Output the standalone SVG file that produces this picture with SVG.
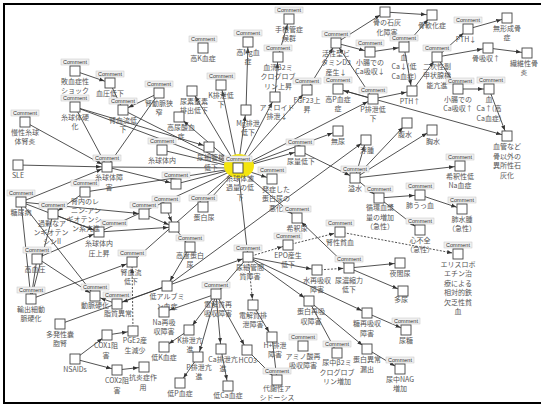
<svg xmlns="http://www.w3.org/2000/svg" width="541" height="407" viewBox="0 0 541 407">
<style>
.b{fill:#fff;stroke:#444;stroke-width:0.9}
.c{fill:#f1f1f1;stroke:#c4c4c4;stroke-width:0.5}
.ct{font-family:"Liberation Sans",Arial,sans-serif;font-size:5.5px;fill:#333;text-anchor:middle}
.t{font-family:"Noto Sans CJK JP","Noto Sans",sans-serif;font-size:7px;fill:#555;text-anchor:middle}
.e{stroke:#333;stroke-width:0.85;fill:none;marker-end:url(#a)}
.d{stroke-dasharray:2,1.5}
</style>
<defs>
<marker id="a" viewBox="0 0 10 10" refX="22" refY="5" markerWidth="5" markerHeight="5" markerUnits="userSpaceOnUse" orient="auto"><path d="M0,1L10,5L0,9z" fill="#333"/></marker>
</defs>
<rect x="0" y="0" width="541" height="407" fill="#fff"/>
<rect x="4" y="4" width="540" height="399" fill="none" stroke="#000" stroke-width="2"/>
<g id="connectors">
<line class="e" x1="75" y1="71" x2="110" y2="83"/>
<line class="e" x1="110" y1="83" x2="123" y2="110"/>
<line class="e" x1="159" y1="93" x2="123" y2="110"/>
<line class="e" x1="123" y1="110" x2="238" y2="168"/>
<line class="e" x1="159" y1="93" x2="107" y2="167"/>
<line class="e" x1="75" y1="107" x2="238" y2="168"/>
<line class="e" x1="75" y1="107" x2="209" y2="147"/>
<line class="e" x1="75" y1="107" x2="107" y2="167"/>
<line class="e" x1="25" y1="122" x2="107" y2="167"/>
<line class="e" x1="18" y1="165" x2="107" y2="167"/>
<line class="e" x1="21" y1="202" x2="107" y2="167"/>
<line class="e" x1="21" y1="202" x2="99" y2="232"/>
<line class="e" x1="21" y1="202" x2="31" y2="299"/>
<line class="e" x1="21" y1="202" x2="144" y2="214"/>
<line class="e" x1="85" y1="192" x2="53" y2="214"/>
<line class="e" x1="85" y1="192" x2="238" y2="168"/>
<line class="e" x1="53" y1="214" x2="99" y2="232"/>
<line class="e" x1="53" y1="214" x2="31" y2="299"/>
<line class="e" x1="37" y1="258" x2="99" y2="232"/>
<line class="e" x1="37" y1="258" x2="95" y2="296"/>
<line class="e" x1="37" y1="258" x2="31" y2="299"/>
<line class="e" x1="21" y1="202" x2="95" y2="296"/>
<line class="e" x1="31" y1="299" x2="132" y2="262"/>
<line class="e" x1="99" y1="232" x2="238" y2="168"/>
<line class="e" x1="99" y1="232" x2="174" y2="227"/>
<line class="e" x1="107" y1="167" x2="238" y2="168"/>
<line class="e" x1="107" y1="167" x2="176" y2="184"/>
<line class="e" x1="162" y1="150" x2="238" y2="168"/>
<line class="e" x1="176" y1="184" x2="238" y2="168"/>
<line class="e" x1="203" y1="207" x2="238" y2="168"/>
<line class="e" x1="166" y1="208" x2="174" y2="227"/>
<line class="e" x1="144" y1="214" x2="174" y2="227"/>
<line class="e" x1="174" y1="227" x2="190" y2="247"/>
<line class="e" x1="190" y1="247" x2="167" y2="286"/>
<line class="e" x1="132" y1="262" x2="238" y2="168"/>
<line class="e d" x1="133" y1="331" x2="132" y2="262"/>
<line class="e" x1="167" y1="286" x2="117" y2="304"/>
<line class="e" x1="117" y1="304" x2="95" y2="296"/>
<line class="e" x1="60" y1="324" x2="248" y2="257"/>
<line class="e" x1="75" y1="359" x2="107" y2="335"/>
<line class="e" x1="75" y1="359" x2="117" y2="370"/>
<line class="e" x1="107" y1="335" x2="133" y2="331"/>
<line class="e" x1="117" y1="370" x2="144" y2="367"/>
<line class="e" x1="238" y1="168" x2="192" y2="91"/>
<line class="e" x1="238" y1="168" x2="179" y2="117"/>
<line class="e" x1="238" y1="168" x2="221" y2="85"/>
<line class="e" x1="238" y1="168" x2="246" y2="110"/>
<line class="e" x1="238" y1="168" x2="275" y2="97"/>
<line class="e" x1="238" y1="168" x2="307" y2="90"/>
<line class="e" x1="238" y1="168" x2="373" y2="99"/>
<line class="e" x1="238" y1="168" x2="300" y2="151"/>
<line class="e" x1="238" y1="168" x2="338" y2="131"/>
<line class="e" x1="238" y1="168" x2="248" y2="257"/>
<line class="e" x1="238" y1="168" x2="272" y2="179"/>
<line class="e" x1="238" y1="168" x2="297" y2="218"/>
<line class="e" x1="246" y1="110" x2="248" y2="42"/>
<line class="e" x1="275" y1="97" x2="278" y2="57"/>
<line class="e" x1="278" y1="57" x2="289" y2="19"/>
<line class="e" x1="307" y1="90" x2="336" y2="43"/>
<line class="e" x1="373" y1="99" x2="336" y2="43"/>
<line class="e" x1="373" y1="99" x2="338" y2="89"/>
<line class="e" x1="373" y1="99" x2="412" y2="91"/>
<line class="e" x1="338" y1="89" x2="507" y2="136"/>
<line class="e" x1="336" y1="43" x2="370" y2="52"/>
<line class="e" x1="336" y1="43" x2="385" y2="12"/>
<line class="e" x1="385" y1="12" x2="432" y2="15"/>
<line class="e" x1="404" y1="47" x2="432" y2="15"/>
<line class="e" x1="370" y1="52" x2="404" y2="47"/>
<line class="e" x1="404" y1="47" x2="412" y2="91"/>
<line class="e" x1="412" y1="91" x2="437" y2="57"/>
<line class="e" x1="437" y1="57" x2="488" y2="48"/>
<line class="e" x1="488" y1="48" x2="527" y2="53"/>
<line class="e" x1="437" y1="57" x2="468" y2="29"/>
<line class="e" x1="468" y1="29" x2="507" y2="18"/>
<line class="e" x1="437" y1="57" x2="458" y2="89"/>
<line class="e" x1="458" y1="89" x2="489" y2="89"/>
<line class="e" x1="489" y1="89" x2="507" y2="136"/>
<line class="e" x1="300" y1="151" x2="355" y2="178"/>
<line class="e" x1="167" y1="286" x2="366" y2="140"/>
<line class="e" x1="355" y1="178" x2="366" y2="140"/>
<line class="e" x1="355" y1="178" x2="407" y2="123"/>
<line class="e" x1="355" y1="178" x2="432" y2="130"/>
<line class="e" x1="355" y1="178" x2="460" y2="166"/>
<line class="e" x1="355" y1="178" x2="379" y2="198"/>
<line class="e" x1="379" y1="198" x2="420" y2="195"/>
<line class="e" x1="379" y1="198" x2="420" y2="230"/>
<line class="e" x1="420" y1="195" x2="462" y2="209"/>
<line class="e d" x1="288" y1="245" x2="340" y2="232"/>
<line class="e d" x1="340" y1="232" x2="458" y2="254"/>
<line class="e d" x1="248" y1="257" x2="288" y2="245"/>
<line class="e" x1="248" y1="257" x2="317" y2="270"/>
<line class="e d" x1="317" y1="270" x2="349" y2="268"/>
<line class="e" x1="349" y1="268" x2="400" y2="263"/>
<line class="e" x1="349" y1="268" x2="403" y2="291"/>
<line class="e" x1="349" y1="268" x2="297" y2="218"/>
<line class="e" x1="248" y1="257" x2="309" y2="301"/>
<line class="e" x1="248" y1="257" x2="367" y2="313"/>
<line class="e" x1="248" y1="257" x2="216" y2="294"/>
<line class="e d" x1="248" y1="257" x2="253" y2="305"/>
<line class="e" x1="309" y1="301" x2="337" y2="353"/>
<line class="e" x1="309" y1="301" x2="367" y2="349"/>
<line class="e" x1="367" y1="349" x2="400" y2="369"/>
<line class="e" x1="367" y1="313" x2="406" y2="330"/>
<line class="e" x1="216" y1="294" x2="164" y2="312"/>
<line class="e" x1="216" y1="294" x2="189" y2="330"/>
<line class="e" x1="216" y1="294" x2="198" y2="357"/>
<line class="e" x1="216" y1="294" x2="221" y2="349"/>
<line class="e" x1="216" y1="294" x2="247" y2="350"/>
<line class="e" x1="189" y1="330" x2="164" y2="347"/>
<line class="e" x1="198" y1="357" x2="180" y2="383"/>
<line class="e" x1="221" y1="349" x2="228" y2="386"/>
<line class="e" x1="247" y1="350" x2="277" y2="380"/>
<line class="e" x1="253" y1="305" x2="272" y2="337"/>
<line class="e" x1="272" y1="337" x2="277" y2="380"/>
</g>
<g id="n_shock"><rect class="c" x="61" y="59" width="28" height="6"/><text class="ct" x="75" y="63.8">Comment</text><rect class="b" x="70" y="66" width="10" height="10"/><text class="t" x="75" y="83.5">敗血症性</text><text class="t" x="75" y="93">ショック</text></g>
<g id="n_bp"><rect class="c" x="96" y="71" width="28" height="6"/><text class="ct" x="110" y="75.8">Comment</text><rect class="b" x="105" y="78" width="10" height="10"/><text class="t" x="110" y="95.5">血圧低下</text></g>
<g id="n_gs"><rect class="c" x="61" y="95" width="28" height="6"/><text class="ct" x="75" y="99.8">Comment</text><rect class="b" x="70" y="102" width="10" height="10"/><text class="t" x="75" y="119.5">糸球体硬</text><text class="t" x="75" y="129">化</text></g>
<g id="n_rbf"><rect class="c" x="109" y="98" width="28" height="6"/><text class="ct" x="123" y="102.8">Comment</text><rect class="b" x="118" y="105" width="10" height="10"/><text class="t" x="123" y="122.5">腎血流低</text><text class="t" x="123" y="132">下</text></g>
<g id="n_cgn"><rect class="c" x="11" y="110" width="28" height="6"/><text class="ct" x="25" y="114.8">Comment</text><rect class="b" x="20" y="117" width="10" height="10"/><text class="t" x="25" y="134.5">慢性糸球</text><text class="t" x="25" y="144">体腎炎</text></g>
<g id="n_ras"><rect class="c" x="145" y="81" width="28" height="6"/><text class="ct" x="159" y="85.8">Comment</text><rect class="b" x="154" y="88" width="10" height="10"/><text class="t" x="159" y="105.5">腎動脈狭</text><text class="t" x="159" y="115">窄</text></g>
<g id="n_hk"><rect class="c" x="189" y="36" width="28" height="6"/><text class="ct" x="203" y="40.8">Comment</text><rect class="b" x="198" y="43" width="10" height="10"/><text class="t" x="203" y="60.5">高K血症</text></g>
<g id="n_hmg"><rect class="c" x="234" y="30" width="28" height="6"/><text class="ct" x="248" y="34.8">Comment</text><rect class="b" x="243" y="37" width="10" height="10"/><text class="t" x="248" y="54.5">高Mg血</text><text class="t" x="248" y="64">症</text></g>
<g id="n_bun"><rect class="b" x="187" y="86" width="10" height="10"/><text class="t" x="194" y="103.5">尿素窒素</text><text class="t" x="194" y="113">排出低下</text></g>
<g id="n_hua"><rect class="b" x="174" y="112" width="10" height="10"/><text class="t" x="181" y="129.5">高尿酸血</text><text class="t" x="181" y="139">症</text></g>
<g id="n_kex"><rect class="c" x="207" y="73" width="28" height="6"/><text class="ct" x="221" y="77.8">Comment</text><rect class="b" x="216" y="80" width="10" height="10"/><text class="t" x="221" y="97.5">K排泄低</text><text class="t" x="221" y="107">下</text></g>
<g id="n_mgex"><rect class="b" x="241" y="105" width="10" height="10"/><text class="t" x="248" y="125.5">Mg排泄</text><text class="t" x="248" y="135">低下</text></g>
<g id="n_cts"><rect class="c" x="275" y="7" width="28" height="6"/><text class="ct" x="289" y="11.8">Comment</text><rect class="b" x="284" y="14" width="10" height="10"/><text class="t" x="289" y="31.5">手根管症</text><text class="t" x="289" y="41">候群</text></g>
<g id="n_b2m"><rect class="c" x="264" y="45" width="28" height="6"/><text class="ct" x="278" y="49.8">Comment</text><rect class="b" x="273" y="52" width="10" height="10"/><text class="t" x="278" y="69.5">血清β2ミ</text><text class="t" x="278" y="79">クログロブ</text><text class="t" x="278" y="88.5">リン上昇</text></g>
<g id="n_amy"><rect class="b" x="270" y="92" width="10" height="10"/><text class="t" x="277" y="109.5">アミロイド</text><text class="t" x="277" y="119">排泄↓</text></g>
<g id="n_fgf"><rect class="c" x="293" y="78" width="28" height="6"/><text class="ct" x="307" y="82.8">Comment</text><rect class="b" x="302" y="85" width="10" height="10"/><text class="t" x="307" y="102.5">FGF23上</text><text class="t" x="307" y="112">昇</text></g>
<g id="n_vd"><rect class="c" x="322" y="31" width="28" height="6"/><text class="ct" x="336" y="35.8">Comment</text><rect class="b" x="331" y="38" width="10" height="10"/><text class="t" x="336" y="55.5">活性型ビ</text><text class="t" x="336" y="65">タミンD3</text><text class="t" x="336" y="74.5">産生↓</text></g>
<g id="n_cad"><rect class="c" x="356" y="40" width="28" height="6"/><text class="ct" x="370" y="44.8">Comment</text><rect class="b" x="365" y="47" width="10" height="10"/><text class="t" x="370" y="64.5">小腸での</text><text class="t" x="370" y="74">Ca吸収↓</text></g>
<g id="n_bmin"><rect class="b" x="380" y="7" width="10" height="10"/><text class="t" x="387" y="25">骨の石灰</text><text class="t" x="387" y="34.5">化障害</text></g>
<g id="n_hp"><rect class="c" x="324" y="77" width="28" height="6"/><text class="ct" x="338" y="81.8">Comment</text><rect class="b" x="333" y="84" width="10" height="10"/><text class="t" x="338" y="101.5">高P血症</text><text class="t" x="338" y="111">症</text></g>
<g id="n_pex"><rect class="c" x="359" y="87" width="28" height="6"/><text class="ct" x="373" y="91.8">Comment</text><rect class="b" x="368" y="94" width="10" height="10"/><text class="t" x="373" y="111.5">P排泄低</text><text class="t" x="373" y="121">下</text></g>
<g id="n_lca"><rect class="c" x="390" y="35" width="28" height="6"/><text class="ct" x="404" y="39.8">Comment</text><rect class="b" x="399" y="42" width="10" height="10"/><text class="t" x="404" y="59.5">血</text><text class="t" x="404" y="69">Ca↓(低</text><text class="t" x="404" y="78.5">Ca血症)</text></g>
<g id="n_om"><rect class="b" x="427" y="10" width="10" height="10"/><text class="t" x="432" y="27.5">骨軟化症</text></g>
<g id="n_pthd"><rect class="c" x="454" y="17" width="28" height="6"/><text class="ct" x="468" y="21.8">Comment</text><rect class="b" x="463" y="24" width="10" height="10"/><text class="t" x="466" y="42">PTH↓</text></g>
<g id="n_ab"><rect class="b" x="502" y="13" width="10" height="10"/><text class="t" x="507" y="30.5">無形成骨</text><text class="t" x="507" y="40">症</text></g>
<g id="n_hpt"><rect class="c" x="423" y="45" width="28" height="6"/><text class="ct" x="437" y="49.8">Comment</text><rect class="b" x="432" y="52" width="10" height="10"/><text class="t" x="437" y="68.5">二次性副</text><text class="t" x="437" y="78">甲状腺機</text><text class="t" x="437" y="87.5">能亢進</text></g>
<g id="n_br"><rect class="b" x="483" y="43" width="10" height="10"/><text class="t" x="486" y="60.5">骨吸収↑</text></g>
<g id="n_of"><rect class="b" x="522" y="48" width="10" height="10"/><text class="t" x="524" y="65.5">繊維性骨</text><text class="t" x="524" y="75">炎</text></g>
<g id="n_pthu"><rect class="b" x="407" y="86" width="10" height="10"/><text class="t" x="410" y="103.5">PTH↑</text></g>
<g id="n_cau"><rect class="c" x="446" y="78" width="28" height="6"/><text class="ct" x="460" y="82.8">Comment</text><rect class="b" x="453" y="84" width="10" height="10"/><text class="t" x="458" y="101.5">小腸での</text><text class="t" x="458" y="111">Ca吸収↑</text></g>
<g id="n_hca"><rect class="c" x="477" y="77" width="28" height="6"/><text class="ct" x="491" y="81.8">Comment</text><rect class="b" x="484" y="84" width="10" height="10"/><text class="t" x="489" y="101.5">血</text><text class="t" x="489" y="111">Ca↑(高</text><text class="t" x="489" y="120.5">Ca血症)</text></g>
<g id="n_ect"><rect class="b" x="502" y="131" width="10" height="10"/><text class="t" x="507" y="149">血管など</text><text class="t" x="507" y="158.5">骨以外の</text><text class="t" x="507" y="168">異所性石</text><text class="t" x="507" y="177.5">灰化</text></g>
<g id="n_asc"><rect class="b" x="402" y="118" width="10" height="10"/><text class="t" x="405" y="137">腹水</text></g>
<g id="n_pe"><rect class="b" x="427" y="125" width="10" height="10"/><text class="t" x="433" y="144">胸水</text></g>
<g id="n_ed"><rect class="b" x="361" y="135" width="10" height="10"/><text class="t" x="367" y="152.5">浮腫</text></g>
<g id="n_anu"><rect class="b" x="333" y="126" width="10" height="10"/><text class="t" x="338" y="144">無尿</text></g>
<g id="n_uo"><rect class="c" x="286" y="139" width="28" height="6"/><text class="ct" x="300" y="143.8">Comment</text><rect class="b" x="295" y="146" width="10" height="10"/><text class="t" x="301" y="163.5">尿量低下</text></g>
<g id="n_oh"><rect class="c" x="341" y="166" width="28" height="6"/><text class="ct" x="355" y="170.8">Comment</text><rect class="b" x="350" y="173" width="10" height="10"/><text class="t" x="355" y="190.5">溢水</text></g>
<g id="n_cv"><rect class="c" x="365" y="186" width="28" height="6"/><text class="ct" x="379" y="190.8">Comment</text><rect class="b" x="374" y="193" width="10" height="10"/><text class="t" x="380" y="210">循環血漿</text><text class="t" x="380" y="219.5">量の増加</text><text class="t" x="380" y="229">（急性）</text></g>
<g id="n_na"><rect class="c" x="446" y="154" width="28" height="6"/><text class="ct" x="460" y="158.8">Comment</text><rect class="b" x="455" y="161" width="10" height="10"/><text class="t" x="460" y="178.5">希釈性低</text><text class="t" x="460" y="188">Na血症</text></g>
<g id="n_pc"><rect class="c" x="406" y="183" width="28" height="6"/><text class="ct" x="420" y="187.8">Comment</text><rect class="b" x="415" y="190" width="10" height="10"/><text class="t" x="420" y="207.5">肺うっ血</text></g>
<g id="n_pue"><rect class="c" x="448" y="197" width="28" height="6"/><text class="ct" x="462" y="201.8">Comment</text><rect class="b" x="457" y="204" width="10" height="10"/><text class="t" x="462" y="221.5">肺水腫</text><text class="t" x="462" y="231">（急性）</text></g>
<g id="n_hf"><rect class="c" x="406" y="218" width="28" height="6"/><text class="ct" x="420" y="222.8">Comment</text><rect class="b" x="415" y="225" width="10" height="10"/><text class="t" x="420" y="242.5">心不全</text><text class="t" x="420" y="252">（急性）</text></g>
<g id="n_esa"><rect class="c" x="444" y="242" width="28" height="6"/><text class="ct" x="458" y="246.8">Comment</text><rect class="b" x="453" y="249" width="10" height="10"/><text class="t" x="458" y="266.5">エリスロポ</text><text class="t" x="458" y="276">エチン治</text><text class="t" x="458" y="285.5">療による</text><text class="t" x="458" y="295">相対的鉄</text><text class="t" x="458" y="304.5">欠乏性貧</text><text class="t" x="458" y="314">血</text></g>
<g id="n_prot2"><rect class="c" x="258" y="167" width="28" height="6"/><text class="ct" x="272" y="171.8">Comment</text><rect class="b" x="267" y="174" width="10" height="10"/><text class="t" x="276" y="191.5">発症した</text><text class="t" x="276" y="201">蛋白尿の</text><text class="t" x="276" y="210.5">悪化</text></g>
<g id="n_dil"><rect class="c" x="283" y="206" width="28" height="6"/><text class="ct" x="297" y="210.8">Comment</text><rect class="b" x="292" y="213" width="10" height="10"/><text class="t" x="297" y="230.5">希釈尿</text></g>
<g id="n_ra"><rect class="c" x="326" y="220" width="28" height="6"/><text class="ct" x="340" y="224.8">Comment</text><rect class="b" x="335" y="227" width="10" height="10"/><text class="t" x="340" y="244.5">腎性貧血</text></g>
<g id="n_epo"><rect class="c" x="274" y="233" width="28" height="6"/><text class="ct" x="288" y="237.8">Comment</text><rect class="b" x="283" y="240" width="10" height="10"/><text class="t" x="288" y="257.5">EPO産生</text><text class="t" x="288" y="267">低下</text></g>
<g id="n_wr"><rect class="b" x="312" y="265" width="10" height="10"/><text class="t" x="317" y="282.5">水再吸収</text><text class="t" x="317" y="292">障害</text></g>
<g id="n_uc"><rect class="c" x="335" y="256" width="28" height="6"/><text class="ct" x="349" y="260.8">Comment</text><rect class="b" x="344" y="263" width="10" height="10"/><text class="t" x="349" y="282.5">尿濃縮力</text><text class="t" x="349" y="292">低下</text></g>
<g id="n_noc"><rect class="b" x="395" y="258" width="10" height="10"/><text class="t" x="400" y="275.5">夜間尿</text></g>
<g id="n_pol"><rect class="b" x="398" y="286" width="10" height="10"/><text class="t" x="401" y="301.5">多尿</text></g>
<g id="n_pr"><rect class="b" x="304" y="296" width="10" height="10"/><text class="t" x="311" y="314">蛋白再吸</text><text class="t" x="311" y="323.5">収障害</text></g>
<g id="n_gr"><rect class="b" x="362" y="308" width="10" height="10"/><text class="t" x="367" y="326">糖再吸収</text><text class="t" x="367" y="335.5">障害</text></g>
<g id="n_gly"><rect class="c" x="392" y="318" width="28" height="6"/><text class="ct" x="406" y="322.8">Comment</text><rect class="b" x="401" y="325" width="10" height="10"/><text class="t" x="406" y="343">尿糖</text></g>
<g id="n_aa"><rect class="c" x="289" y="334" width="28" height="6"/><text class="ct" x="303" y="338.8">Comment</text><rect class="b" x="298" y="341" width="10" height="10"/><text class="t" x="303" y="358.5">アミノ酸再</text><text class="t" x="303" y="368">吸収障害</text></g>
<g id="n_b2mu"><rect class="c" x="323" y="341" width="28" height="6"/><text class="ct" x="337" y="345.8">Comment</text><rect class="b" x="332" y="348" width="10" height="10"/><text class="t" x="337" y="365">尿中β2ミ</text><text class="t" x="337" y="374.5">クログロブ</text><text class="t" x="337" y="384">リン増加</text></g>
<g id="n_pl"><rect class="b" x="362" y="344" width="10" height="10"/><text class="t" x="367" y="362">蛋白異常</text><text class="t" x="367" y="371.5">漏出</text></g>
<g id="n_nag"><rect class="c" x="386" y="357" width="28" height="6"/><text class="ct" x="400" y="361.8">Comment</text><rect class="b" x="395" y="364" width="10" height="10"/><text class="t" x="400" y="381.5">尿中NAG</text><text class="t" x="400" y="391">増加</text></g>
<g id="n_ma"><rect class="c" x="263" y="368" width="28" height="6"/><text class="ct" x="277" y="372.8">Comment</text><rect class="b" x="272" y="375" width="10" height="10"/><text class="t" x="277" y="391">代謝性ア</text><text class="t" x="277" y="400">シドーシス</text></g>
<g id="n_hex"><rect class="b" x="267" y="332" width="10" height="10"/><text class="t" x="275" y="348">H+排泄</text><text class="t" x="275" y="357">障害</text></g>
<g id="n_eex"><rect class="b" x="248" y="300" width="10" height="10"/><text class="t" x="253" y="317.5">電解質排</text><text class="t" x="253" y="327">泄障害</text></g>
<g id="n_ti"><rect class="c" x="234" y="245" width="28" height="6"/><text class="ct" x="248" y="249.8">Comment</text><rect class="b" x="243" y="252" width="10" height="10"/><text class="t" x="250" y="269.5">尿細管間</text><text class="t" x="250" y="279">質障害</text></g>
<g id="n_er"><rect class="c" x="202" y="282" width="28" height="6"/><text class="ct" x="216" y="286.8">Comment</text><rect class="b" x="211" y="289" width="10" height="10"/><text class="t" x="218" y="306.5">電解質再</text><text class="t" x="218" y="316">吸収障害</text></g>
<g id="n_alb"><rect class="b" x="162" y="281" width="10" height="10"/><text class="t" x="167" y="299">低アルブミ</text><text class="t" x="167" y="308.5">ン血症</text></g>
<g id="n_nar"><rect class="b" x="159" y="307" width="10" height="10"/><text class="t" x="164" y="324.5">Na再吸</text><text class="t" x="164" y="334">収障害</text></g>
<g id="n_kx"><rect class="b" x="184" y="325" width="10" height="10"/><text class="t" x="190" y="342.5">K排泄亢</text><text class="t" x="190" y="352">進</text></g>
<g id="n_hk2"><rect class="b" x="159" y="342" width="10" height="10"/><text class="t" x="164" y="359.5">低K血症</text></g>
<g id="n_px"><rect class="b" x="193" y="352" width="10" height="10"/><text class="t" x="199" y="369.5">P排泄亢</text><text class="t" x="199" y="379">進</text></g>
<g id="n_cax"><rect class="b" x="216" y="344" width="10" height="10"/><text class="t" x="223" y="361.5">Ca排泄亢</text><text class="t" x="223" y="371">進</text></g>
<g id="n_hco"><rect class="b" x="242" y="345" width="10" height="10"/><text class="t" x="249" y="362.5">HCO3-</text></g>
<g id="n_hp2"><rect class="b" x="175" y="378" width="10" height="10"/><text class="t" x="180" y="395.5">低P血症</text></g>
<g id="n_hca2"><rect class="b" x="223" y="381" width="10" height="10"/><text class="t" x="228" y="398">低Ca血症</text></g>
<g id="n_ai"><rect class="b" x="139" y="362" width="10" height="10"/><text class="t" x="143" y="380">抗炎症作</text><text class="t" x="143" y="389.5">用</text></g>
<g id="n_pge"><rect class="b" x="128" y="326" width="10" height="10"/><text class="t" x="135" y="343">PGE2産</text><text class="t" x="135" y="352.5">生減少</text></g>
<g id="n_cox1"><rect class="b" x="102" y="330" width="10" height="10"/><text class="t" x="106" y="348">COX1阻</text><text class="t" x="106" y="357.5">害</text></g>
<g id="n_cox2"><rect class="b" x="112" y="365" width="10" height="10"/><text class="t" x="117" y="383">COX2阻</text><text class="t" x="117" y="392.5">害</text></g>
<g id="n_nsaid"><rect class="b" x="70" y="354" width="10" height="10"/><text class="t" x="75" y="372">NSAIDs</text></g>
<g id="n_pkd"><rect class="b" x="55" y="319" width="10" height="10"/><text class="t" x="60" y="336.5">多発性嚢</text><text class="t" x="60" y="346">胞腎</text></g>
<g id="n_ea"><rect class="c" x="17" y="287" width="28" height="6"/><text class="ct" x="31" y="291.8">Comment</text><rect class="b" x="26" y="294" width="10" height="10"/><text class="t" x="31" y="311.5">輸出細動</text><text class="t" x="31" y="321">脈硬化</text></g>
<g id="n_as"><rect class="c" x="81" y="284" width="28" height="6"/><text class="ct" x="95" y="288.8">Comment</text><rect class="b" x="90" y="291" width="10" height="10"/><text class="t" x="95" y="308">動脈硬化</text></g>
<g id="n_dl"><rect class="c" x="103" y="292" width="28" height="6"/><text class="ct" x="117" y="296.8">Comment</text><rect class="b" x="112" y="299" width="10" height="10"/><text class="t" x="118" y="316">脂質異常</text></g>
<g id="n_rbf2"><rect class="c" x="118" y="250" width="28" height="6"/><text class="ct" x="132" y="254.8">Comment</text><rect class="b" x="127" y="257" width="10" height="10"/><text class="t" x="131" y="274.5">腎血流</text><text class="t" x="131" y="284">低下</text></g>
<g id="n_ht"><rect class="c" x="23" y="247" width="28" height="6"/><text class="ct" x="37" y="251.8">Comment</text><rect class="b" x="32" y="254" width="10" height="10"/><text class="t" x="35" y="271.5">高血圧</text></g>
<g id="n_igp"><rect class="c" x="101" y="220" width="26" height="6"/><text class="ct" x="114" y="224.8">Comment</text><rect class="b" x="94" y="227" width="10" height="10"/><text class="t" x="99" y="246">糸球体内</text><text class="t" x="99" y="255.5">圧上昇</text></g>
<g id="n_ang"><rect class="c" x="39" y="202" width="28" height="6"/><text class="ct" x="53" y="206.8">Comment</text><rect class="b" x="48" y="209" width="10" height="10"/><text class="t" x="52" y="226">過剰なア</text><text class="t" x="51" y="235">ンギオテン</text><text class="t" x="52" y="244">シンII</text></g>
<g id="n_dm"><rect class="c" x="7" y="190" width="28" height="6"/><text class="ct" x="21" y="194.8">Comment</text><rect class="b" x="16" y="197" width="10" height="10"/><text class="t" x="21" y="214.5">糖尿病</text></g>
<g id="n_ras2"><rect class="c" x="71" y="180" width="28" height="6"/><text class="ct" x="85" y="184.8">Comment</text><rect class="b" x="80" y="187" width="10" height="10"/><text class="t" x="85" y="204">腎内のレ</text><text class="t" x="86" y="213">ニン-アン</text><text class="t" x="84" y="222">ギオテンシ</text><text class="t" x="86" y="231">ン系亢進</text></g>
<g id="n_sle"><rect class="b" x="13" y="160" width="10" height="10"/><text class="t" x="18" y="177.5">SLE</text></g>
<g id="n_gd"><rect class="c" x="93" y="155" width="28" height="6"/><text class="ct" x="107" y="159.8">Comment</text><rect class="b" x="102" y="162" width="10" height="10"/><text class="t" x="109" y="180">糸球体障</text><text class="t" x="109" y="189.5">害</text></g>
<g id="n_x1"><rect class="c" x="148" y="138" width="28" height="6"/><text class="ct" x="162" y="142.8">Comment</text><rect class="b" x="157" y="145" width="10" height="10"/><text class="t" x="162" y="162.5">糸球体内</text></g>
<g id="n_x2"><rect class="b" x="204" y="142" width="10" height="10"/><text class="t" x="211" y="160">尿細管機</text><text class="t" x="211" y="169.5">低下</text></g>
<g id="n_x3"><rect class="c" x="162" y="172" width="28" height="6"/><text class="ct" x="176" y="176.8">Comment</text><rect class="b" x="171" y="179" width="10" height="10"/></g>
<g id="n_x4"><rect class="c" x="189" y="195" width="28" height="6"/><text class="ct" x="203" y="199.8">Comment</text><rect class="b" x="198" y="202" width="10" height="10"/><text class="t" x="204" y="219.5">蛋白尿</text></g>
<g id="n_x5"><rect class="c" x="152" y="196" width="28" height="6"/><text class="ct" x="166" y="200.8">Comment</text><rect class="b" x="161" y="203" width="10" height="10"/></g>
<g id="n_x6"><rect class="c" x="130" y="202" width="28" height="6"/><text class="ct" x="144" y="206.8">Comment</text><rect class="b" x="139" y="209" width="10" height="10"/></g>
<g id="n_x7"><rect class="b" x="169" y="222" width="10" height="10"/></g>
<g id="n_hp3"><rect class="c" x="176" y="235" width="28" height="6"/><text class="ct" x="190" y="239.8">Comment</text><rect class="b" x="185" y="242" width="10" height="10"/><text class="t" x="190" y="257.5">高度蛋白</text><text class="t" x="190" y="267">尿</text></g>
<g id="n_hub"><ellipse cx="239" cy="166" rx="15" ry="12" fill="#f4e50f"/><rect class="c" x="224" y="156" width="28" height="6"/><text class="ct" x="238" y="160.8">Comment</text><rect class="b" x="233" y="163" width="10" height="10"/><text class="t" x="240" y="180.5">糸球体濾</text><text class="t" x="240" y="190">過量の低</text><text class="t" x="240" y="199.5">下</text></g>
</svg>
